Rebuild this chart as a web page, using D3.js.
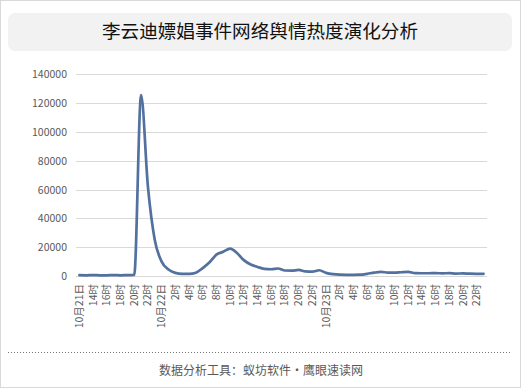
<!DOCTYPE html>
<html>
<head>
<meta charset="utf-8">
<script src="https://cdn.jsdelivr.net/npm/d3@7/dist/d3.min.js"></script>
<style>
  html, body { margin: 0; padding: 0; background: #fff; }
  svg { display: block; font-family: "Noto Sans CJK SC", "Noto Sans", sans-serif; }
</style>
</head>
<body>
<div id="chart"></div>
<script>
const titulo = '李云迪嫖娼事件网络舆情热度演化分析';
const rodape = '数据分析工具：蚁坊软件·鹰眼速读网';

// uma categoria por hora, de 21/10 12时 até 23/10 23时
const horas = [
  '10月21日', '13时', '14时', '15时', '16时', '17时', '18时', '19时', '20时', '21时', '22时', '23时',
  '10月22日', '1时', '2时', '3时', '4时', '5时', '6时', '7时', '8时', '9时', '10时', '11时',
  '12时', '13时', '14时', '15时', '16时', '17时', '18时', '19时', '20时', '21时', '22时', '23时',
  '10月23日', '1时', '2时', '3时', '4时', '5时', '6时', '7时', '8时', '9时', '10时', '11时',
  '12时', '13时', '14时', '15时', '16时', '17时', '18时', '19时', '20时', '21时', '22时', '23时'
];

const valores = [
  600, 500, 600, 500, 500, 600, 500, 600, 700, 125500, 62000, 25000,
  10000, 4500, 2200, 1500, 1500, 2300, 5500, 9500, 14800, 16800, 19000, 16000,
  11000, 8000, 6300, 5000, 4700, 5200, 3800, 3700, 4200, 3200, 3000, 4000,
  2200, 1300, 900, 800, 800, 900, 1500, 2300, 2800, 2400, 2300, 2600,
  2800, 2000, 1900, 1900, 2000, 1800, 2000, 1700, 1800, 1600, 1500, 1500
];

const yTicks = [0, 20000, 40000, 60000, 80000, 100000, 120000, 140000];

const largura = 521, altura = 388;
const svg = d3.select('#chart').append('svg')
  .attr('width', largura).attr('height', altura);

// moldura
svg.append('rect')
  .attr('x', 0.5).attr('y', 0.5)
  .attr('width', largura - 1).attr('height', altura - 1)
  .attr('fill', '#fff').attr('stroke', '#d9d9d9');

// caixa do título
svg.append('rect')
  .attr('x', 8).attr('y', 13).attr('width', 504).attr('height', 38)
  .attr('rx', 7).attr('fill', '#f2f2f2');
svg.append('text')
  .attr('x', 260).attr('y', 38)
  .attr('text-anchor', 'middle')
  .attr('font-size', 18.6)
  .attr('fill', '#111')
  .text(titulo);

const x = d3.scalePoint().domain(d3.range(horas.length)).range([76, 487]).padding(0.5);
const y = d3.scaleLinear().domain([0, 140000]).range([276, 74.3]);

// grade
svg.append('g').selectAll('line')
  .data(yTicks)
  .join('line')
  .attr('x1', 76).attr('x2', 487)
  .attr('y1', d => Math.round(y(d)) + 0.5).attr('y2', d => Math.round(y(d)) + 0.5)
  .attr('stroke', '#d9d9d9').attr('stroke-width', 1);

svg.append('g').selectAll('text')
  .data(yTicks)
  .join('text')
  .attr('x', 67).attr('y', d => y(d) + 4)
  .attr('text-anchor', 'end')
  .attr('font-size', 10.5)
  .attr('fill', '#595959')
  .text(d => d);

// rótulos do eixo x (a cada duas horas)
svg.append('g').selectAll('text')
  .data(horas.map((h, i) => ({ h, i })).filter(d => d.i % 2 === 0))
  .join('text')
  .attr('transform', d => `translate(${x(d.i) + 3.5},284) rotate(-90)`)
  .attr('text-anchor', 'end')
  .attr('font-size', 10.5)
  .attr('fill', '#595959')
  .text(d => d.h);

// linha
const linha = d3.line()
  .x((d, i) => x(i))
  .y(d => y(d))
  .curve(d3.curveMonotoneX);

svg.append('path')
  .datum(valores)
  .attr('d', linha)
  .attr('fill', 'none')
  .attr('stroke', '#52719f')
  .attr('stroke-width', 2.7)
  .attr('stroke-linejoin', 'round')
  .attr('stroke-linecap', 'round');

// rodapé
svg.append('line')
  .attr('x1', 8).attr('x2', 512)
  .attr('y1', 352.5).attr('y2', 352.5)
  .attr('stroke', '#777').attr('stroke-dasharray', '1,2');
svg.append('text')
  .attr('x', 261).attr('y', 375)
  .attr('text-anchor', 'middle')
  .attr('font-size', 12)
  .attr('fill', '#595959')
  .text(rodape);
</script>
</body>
</html>
